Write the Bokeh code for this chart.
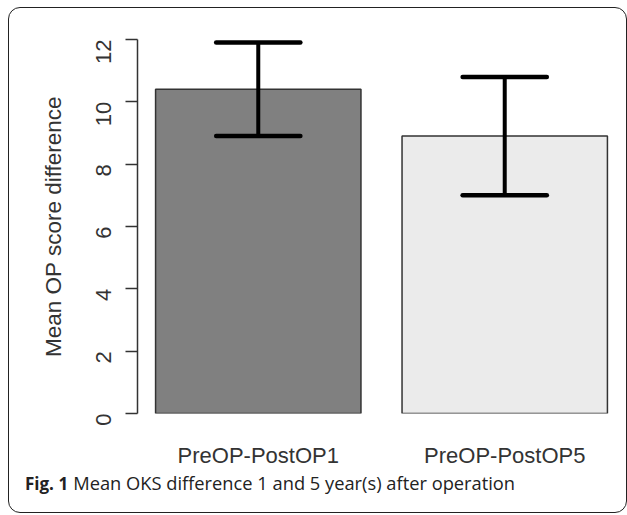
from bokeh.plotting import figure
from bokeh.models import Range1d, LinearAxis, FixedTicker, Div, InlineStyleSheet
from bokeh.layouts import column
from bokeh.embed import file_html
from bokeh.resources import INLINE
import numpy as np

# ---- data ----
categories = ["PreOP-PostOP1", "PreOP-PostOP5"]
means = [10.4, 8.9]
lower = [8.9, 7.0]
upper = [11.9, 10.8]
bar_colors = ["#808080", "#ebebeb"]
y_ticks = [0, 2, 4, 6, 8, 10, 12]
y_label = "Mean OP score difference"
caption_bold = "Fig. 1"
caption_text = "Mean OKS difference 1 and 5 year(s) after operation"

# R barplot geometry: width 1, space 0.2
x_centers = [0.2 + 0.5 + i * 1.2 for i in range(len(categories))]
xc = np.array(x_centers)
cap_half = 0.205

box_css = """
:host { position: relative; }
:host::after {
  content: ""; position: absolute; left: 8px; top: 7px; width: 619px; height: 506px;
  border: 1.5px solid #222222; border-radius: 12px; box-sizing: border-box;
  pointer-events: none;
}
"""

p = figure(width=627, height=470, output_backend="svg", toolbar_location=None,
           x_range=Range1d(0.112, 2.488), y_range=Range1d(0, 12),
           x_axis_location=None, y_axis_location=None,
           min_border_left=137, min_border_right=2, min_border_top=39, min_border_bottom=57)
p.grid.grid_line_color = None
p.outline_line_color = None
p.background_fill_color = "white"
p.border_fill_color = "white"

TXT = "#333333"
FONT = "Liberation Sans"
FS = "22px"

yaxis = LinearAxis(ticker=FixedTicker(ticks=y_ticks), axis_label=y_label)
yaxis.axis_line_color = TXT
yaxis.axis_line_width = 1.5
yaxis.major_tick_line_color = TXT
yaxis.major_tick_line_width = 1.5
yaxis.major_tick_out = 12
yaxis.major_tick_in = 0
yaxis.minor_tick_line_color = None
yaxis.major_label_orientation = np.pi / 2
yaxis.major_label_text_font = FONT
yaxis.major_label_text_font_size = FS
yaxis.major_label_text_color = TXT
yaxis.major_label_standoff = 22
yaxis.axis_label_text_font = FONT
yaxis.axis_label_text_font_size = "22.5px"
yaxis.axis_label_text_font_style = "normal"
yaxis.axis_label_text_color = TXT
yaxis.axis_label_standoff = 20
p.add_layout(yaxis, "left")

xaxis = LinearAxis(ticker=FixedTicker(ticks=x_centers),
                   major_label_overrides={x: c for x, c in zip(x_centers, categories)})
xaxis.axis_line_color = None
xaxis.major_tick_line_color = None
xaxis.minor_tick_line_color = None
xaxis.major_label_text_font = FONT
xaxis.major_label_text_font_size = FS
xaxis.major_label_text_color = TXT
xaxis.major_label_standoff = 23
p.add_layout(xaxis, "below")

p.vbar(x=x_centers, top=means, bottom=0, width=1.0, fill_color=bar_colors,
       line_color="#333333", line_width=1.5)

p.segment(x0=x_centers, y0=lower, x1=x_centers, y1=upper, line_color="black", line_width=4)
p.segment(x0=list(xc - cap_half), y0=lower, x1=list(xc + cap_half), y1=lower,
          line_color="black", line_width=4.5, line_cap="round")
p.segment(x0=list(xc - cap_half), y0=upper, x1=list(xc + cap_half), y1=upper,
          line_color="black", line_width=4.5, line_cap="round")

# caption below the chart: bold figure number + plain text on one line
caption_html = (
    f'<span style="font-weight:700;font-size:17px;">{caption_bold}</span> '
    f'<span style="font-weight:400;font-size:18.3px;margin-left:2px;">{caption_text}</span>'
)
cap = Div(text=caption_html, width=627, height=45, margin=(0, 0, 0, 0),
          styles={"font-family": "'Open Sans'", "color": "#222222",
                  "line-height": "22px", "padding-left": "25px", "padding-top": "2px",
                  "box-sizing": "border-box", "white-space": "nowrap"})

layout = column(p, cap, spacing=0, width=627, height=515)
layout.stylesheets = [InlineStyleSheet(css=box_css)]

open("out.html", "w").write(file_html(layout, INLINE))
